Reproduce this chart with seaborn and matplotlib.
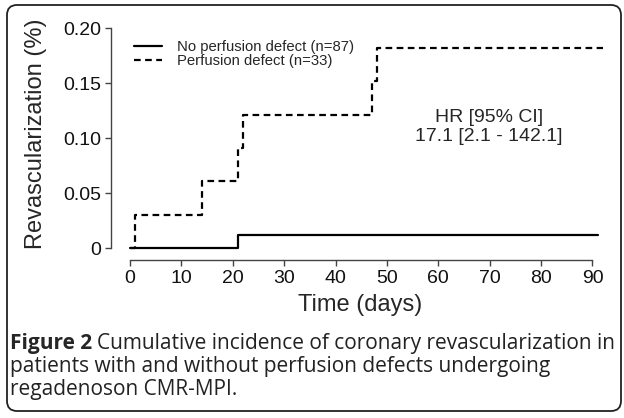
import numpy as np
import pandas as pd
import seaborn as sns
import matplotlib.pyplot as plt
from matplotlib.patches import FancyBboxPatch
from matplotlib.transforms import IdentityTransform

# step points of the cumulative incidence curves
no_defect_days = [0, 21, 91]
no_defect_rate = [0.0, 0.0115, 0.0115]
defect_days = [0, 1, 14, 21, 22, 47, 48, 92]
defect_rate = [0.0, 0.0303, 0.0606, 0.0909, 0.1212, 0.1515, 0.1818, 0.1818]

group_labels = ['No perfusion defect (n=87)', 'Perfusion defect (n=33)']
y_ticks = [0, 0.05, 0.10, 0.15, 0.20]
y_tick_labels = ['0', '0.05', '0.10', '0.15', '0.20']
x_ticks = [0, 10, 20, 30, 40, 50, 60, 70, 80, 90]
hr_text = 'HR [95% CI]\n17.1 [2.1 - 142.1]'
caption_bold = 'Figure 2'
caption_lines = ['Cumulative incidence of coronary revascularization in',
                 'patients with and without perfusion defects undergoing',
                 'regadenoson CMR-MPI.']

df = pd.concat([
    pd.DataFrame({'day': no_defect_days, 'rate': no_defect_rate, 'group': group_labels[0]}),
    pd.DataFrame({'day': defect_days, 'rate': defect_rate, 'group': group_labels[1]}),
])

sns.set_style('ticks')
plt.rcParams['font.family'] = ['Liberation Sans', 'DejaVu Sans']

W, H = 624, 418
fig = plt.figure(figsize=(W / 100, H / 100), dpi=100)
# axes box in pixels: left 111, right 613, top 20, bottom 260
ax = fig.add_axes([111 / W, 1 - 260 / H, 502 / W, 240 / H])

sns.lineplot(data=df, x='day', y='rate', style='group', estimator=None,
             drawstyle='steps-post', color='black', linewidth=1.6,
             dashes={group_labels[0]: '', group_labels[1]: (3, 2)},
             legend=False, ax=ax)

ax.set_xlim(-3.7, 94.0)
ax.set_ylim(-0.0109, 0.2073)
ax.set_xticks(x_ticks)
ax.set_yticks(y_ticks)
ax.set_yticklabels(y_tick_labels)

for side in ['top', 'right']:
    ax.spines[side].set_visible(False)
ax.spines['left'].set_bounds(0, 0.2)
ax.spines['bottom'].set_bounds(0, 90)
for side in ['left', 'bottom']:
    ax.spines[side].set_color('#444444')
    ax.spines[side].set_linewidth(1.0)
ax.tick_params(direction='out', length=4.3, width=1.0, color='#444444',
               labelsize=14, labelcolor='#111111', pad=3)

ax.set_xlabel('Time (days)', fontsize=17)
ax.set_ylabel('Revascularization (%)', fontsize=17)
ax.xaxis.set_label_coords(0.496, -0.14)
ax.yaxis.set_label_coords(-0.128, 0.525)

ax.legend(handles=ax.lines[:2], labels=group_labels, loc='upper left',
          bbox_to_anchor=(134 / W, 1 - 40 / H), bbox_transform=fig.transFigure,
          frameon=False, fontsize=10.7, handlelength=1.9, handletextpad=1.0,
          labelspacing=0.0, borderpad=0, borderaxespad=0)

ax.text(69.8, 0.110, hr_text, ha='center', va='center', fontsize=14,
        linespacing=1.15)

# caption with a bold lead-in
cap_font = ['Open Sans', 'DejaVu Sans']
cap_size = 15
x0 = 10 / W
t = fig.text(x0, 1 - 349 / H, caption_bold, fontsize=cap_size, fontweight='bold',
             family=cap_font, va='baseline')
renderer = fig.canvas.get_renderer()
bw = t.get_window_extent(renderer).width
fig.text(x0 + (bw + 5) / W, 1 - 349 / H, caption_lines[0], fontsize=cap_size,
         family=cap_font, va='baseline', color='#222222')
fig.text(x0, 1 - 372 / H, caption_lines[1], fontsize=cap_size,
         family=cap_font, va='baseline', color='#222222')
fig.text(x0, 1 - 395 / H, caption_lines[2], fontsize=cap_size,
         family=cap_font, va='baseline', color='#222222')

# rounded frame around figure and caption
frame = FancyBboxPatch((7, 7), 614, 406, boxstyle='round,pad=0,rounding_size=10',
                       transform=IdentityTransform(), fill=False, lw=1.3,
                       ec='#222222')
fig.add_artist(frame)

fig.savefig('out.png', dpi=100)
